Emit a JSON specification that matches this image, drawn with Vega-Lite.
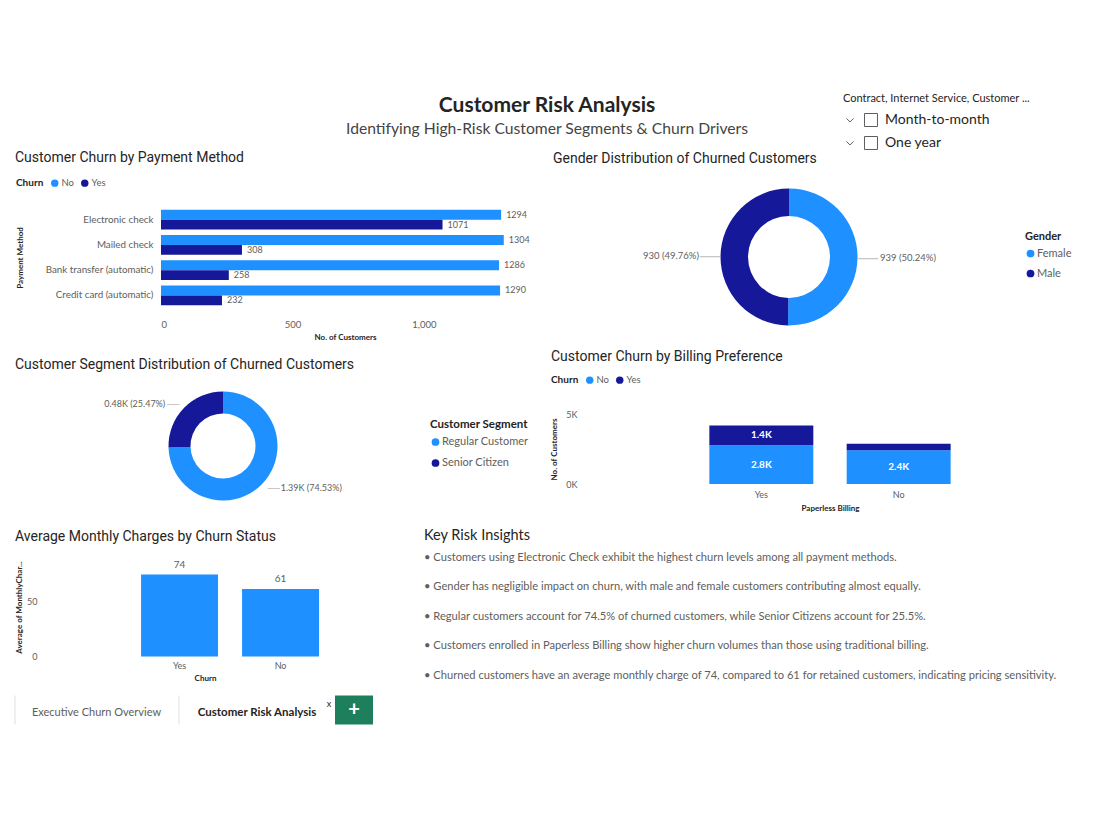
{
  "$schema": "https://vega.github.io/schema/vega-lite/v6.json",
  "background": "white",
  "padding": {"left": 14, "top": 93, "right": 10, "bottom": 10},
  "config": {
    "font": "Lato",
    "view": {"stroke": null},
    "axis": {"grid": false, "domain": false, "ticks": false, "labelColor": "#605E5C", "labelFont": "Lato", "labelFontSize": 9, "titleColor": "#252423", "titleFont": "Lato", "titleFontSize": 8, "titleFontWeight": "bold"},
    "legend": {"labelFont": "Lato", "titleFont": "Lato", "labelColor": "#605E5C", "titleColor": "#252423"},
    "title": {"font": "Roboto", "fontSize": 14, "fontWeight": "normal", "color": "#252423", "anchor": "start", "frame": "group"}
  },
  "resolve": {"scale": {"color": "independent", "shape": "independent"}, "legend": {"color": "independent", "shape": "independent"}},
  "spacing": -1,
  "vconcat": [
    {
      "spacing": 28,
      "resolve": {"scale": {"color": "independent", "shape": "independent"}, "legend": {"color": "independent", "shape": "independent"}},
      "hconcat": [
        {
          "width": 800, "height": 1,
          "data": {"values": [{"item": "header"}]},
          "title": {"text": "Customer Risk Analysis", "subtitle": "Identifying High-Risk Customer Segments & Churn Drivers", "anchor": "middle", "frame": "group", "dx": 132, "font": "Lato", "fontSize": 21, "fontWeight": "bold", "color": "#252423", "subtitleFont": "Lato", "subtitleFontSize": 15.7, "subtitleColor": "#444444", "subtitlePadding": 6, "offset": 0},
          "mark": {"type": "text", "text": ""},
          "encoding": {}
        },
        {
          "width": 238, "height": 1,
          "data": {"values": [{"item": "Month-to-month"}, {"item": "One year"}]},
          "mark": {"type": "point", "opacity": 0, "color": "#605E5C"},
          "encoding": {
            "shape": {"field": "item", "type": "nominal", "sort": null,
              "scale": {"range": ["M2.23,-1H4.23V1H2.23Z M-0.55,-0.25L0,0.3L0.55,-0.25"]},
              "legend": {"orient": "none", "legendX": 0, "legendY": -49, "title": "Contract, Internet Service, Customer ...", "titleFontSize": 11, "titleFontWeight": "normal", "titleColor": "#252423", "titleLimit": 400, "titlePadding": 9, "labelFontSize": 14, "labelColor": "#252423", "labelOffset": 28, "symbolSize": 169, "symbolStrokeColor": "#605E5C", "symbolStrokeWidth": 1, "symbolFillColor": "transparent", "rowPadding": 5,
                "encode": {"symbols": {"update": {"opacity": {"value": 1}, "stroke": {"value": "#605E5C"}, "fill": {"value": "transparent"}}}}}
            }
          }
        }
      ]
    },
    {
      "spacing": 15.5,
      "resolve": {"scale": {"color": "independent", "shape": "independent"}, "legend": {"color": "independent", "shape": "independent"}},
      "vconcat": [
        {
          "spacing": 20,
          "resolve": {"scale": {"color": "independent"}, "legend": {"color": "independent"}},
          "hconcat": [
            {
              "spacing": 16,
              "resolve": {"scale": {"color": "independent"}, "legend": {"color": "independent"}},
              "vconcat": [
                {
                  "width": 514, "height": 101,
                  "title": {"text": "Customer Churn by Payment Method", "offset": 13},
                  "data": {"values": [
                    {"method": "Electronic check", "churn": "No", "count": 1294},
                    {"method": "Electronic check", "churn": "Yes", "count": 1071},
                    {"method": "Mailed check", "churn": "No", "count": 1304},
                    {"method": "Mailed check", "churn": "Yes", "count": 308},
                    {"method": "Bank transfer (automatic)", "churn": "No", "count": 1286},
                    {"method": "Bank transfer (automatic)", "churn": "Yes", "count": 258},
                    {"method": "Credit card (automatic)", "churn": "No", "count": 1290},
                    {"method": "Credit card (automatic)", "churn": "Yes", "count": 232}
                  ]},
                  "encoding": {
                    "y": {"field": "method", "type": "nominal", "sort": null, "scale": {"paddingInner": 0.226, "paddingOuter": 0.113}, "axis": {"title": "Payment Method", "offset": -146, "labelPadding": 8, "titlePadding": 20, "labelLimit": 200, "labelFontSize": 9.8}},
                    "yOffset": {"field": "churn", "type": "nominal", "sort": ["No", "Yes"], "scale": {"paddingInner": 0, "paddingOuter": 0}},
                    "x": {"field": "count", "type": "quantitative", "scale": {"domain": [0, 1400], "nice": false, "range": [146, 514]}, "axis": {"title": "No. of Customers", "values": [0, 500, 1000], "format": ",d", "labelPadding": 11, "titlePadding": 5, "labelFontSize": 9.5}}
                  },
                  "layer": [
                    {"mark": {"type": "bar"}, "encoding": {"color": {"field": "churn", "type": "nominal", "scale": {"domain": ["No", "Yes"], "range": ["#1E90FF", "#16189A"]},
                      "legend": {"orient": "none", "legendX": 1, "legendY": -29, "direction": "horizontal", "title": "Churn", "titleOrient": "left", "titleFontSize": 10, "titleFontWeight": "bold", "titlePadding": 6, "labelFontSize": 9.5, "symbolType": "circle", "symbolSize": 55, "labelOffset": 2, "columnPadding": 6}}}},
                    {"mark": {"type": "text", "align": "left", "dx": 5, "fontSize": 9, "color": "#605E5C"}, "encoding": {"text": {"field": "count", "type": "quantitative", "format": "d"}}}
                  ]
                },
                {
                  "width": 416, "height": 128,
                  "title": {"text": "Customer Segment Distribution of Churned Customers", "offset": 10},
                  "data": {"values": [
                    {"segment": "Regular Customer", "count": 1393, "label": "1.39K (74.53%)"},
                    {"segment": "Senior Citizen", "count": 476, "label": "0.48K (25.47%)"}
                  ]},
                  "encoding": {
                    "theta": {"field": "count", "type": "quantitative", "stack": true},
                    "order": {"field": "segment", "type": "nominal", "sort": "ascending"}
                  },
                  "layer": [
                    {"mark": {"type": "arc", "outerRadius": 54.5, "innerRadius": 32.5}, "encoding": {"color": {"field": "segment", "type": "nominal", "scale": {"domain": ["Regular Customer", "Senior Citizen"], "range": ["#1E90FF", "#16189A"]},
                      "legend": {"orient": "none", "legendX": 415, "legendY": 37, "title": "Customer Segment", "titleFontSize": 11.5, "titleFontWeight": "bold", "titlePadding": 6, "labelFontSize": 11, "symbolType": "circle", "symbolSize": 60, "labelOffset": 1, "rowPadding": 9}}}},
                    {"mark": {"type": "text", "radius": 61, "align": "left", "dx": 14, "fontSize": 9, "color": "#605E5C"}, "encoding": {"detail": {"field": "segment"}, "text": {"condition": {"test": "datum.segment === 'Regular Customer'", "field": "label"}, "value": ""}}},
                    {"mark": {"type": "text", "radius": 61, "align": "right", "dx": -14, "fontSize": 9, "color": "#605E5C"}, "encoding": {"detail": {"field": "segment"}, "text": {"condition": {"test": "datum.segment === 'Senior Citizen'", "field": "label"}, "value": ""}}},
                    {"mark": {"type": "text", "radius": 61, "dx": 7, "font": "Liberation Sans", "fontSize": 12, "color": "#C8C6C4"}, "encoding": {"detail": {"field": "segment"}, "text": {"condition": {"test": "datum.segment === 'Regular Customer'", "value": "—"}, "value": ""}}},
                    {"mark": {"type": "text", "radius": 61, "dx": -6, "font": "Liberation Sans", "fontSize": 12, "color": "#C8C6C4"}, "encoding": {"detail": {"field": "segment"}, "text": {"condition": {"test": "datum.segment === 'Senior Citizen'", "value": "—"}, "value": ""}}}
                  ]
                }
              ]
            },
            {
              "spacing": 24,
              "resolve": {"scale": {"color": "independent"}, "legend": {"color": "independent"}},
              "vconcat": [
                {
                  "width": 418, "height": 100,
                  "title": {"text": "Gender Distribution of Churned Customers", "offset": 23, "dx": -27},
                  "data": {"values": [
                    {"gender": "Female", "count": 939, "label": "939 (50.24%)"},
                    {"gender": "Male", "count": 930, "label": "930 (49.76%)"}
                  ]},
                  "encoding": {
                    "theta": {"field": "count", "type": "quantitative", "stack": true},
                    "order": {"field": "gender", "type": "nominal", "sort": "ascending"}
                  },
                  "layer": [
                    {"mark": {"type": "arc", "outerRadius": 68.5, "innerRadius": 41}, "encoding": {"color": {"field": "gender", "type": "nominal", "scale": {"domain": ["Female", "Male"], "range": ["#1E90FF", "#16189A"]},
                      "legend": {"orient": "none", "legendX": 445, "legendY": 24, "title": "Gender", "titleFontSize": 11, "titleFontWeight": "bold", "titlePadding": 6, "labelFontSize": 11, "symbolType": "circle", "symbolSize": 60, "labelOffset": 1, "rowPadding": 8}}}},
                    {"mark": {"type": "text", "radius": 80, "align": "left", "dx": 11, "fontSize": 9.5, "color": "#605E5C"}, "encoding": {"detail": {"field": "gender"}, "text": {"condition": {"test": "datum.gender === 'Female'", "field": "label"}, "value": ""}}},
                    {"mark": {"type": "text", "radius": 80, "align": "right", "dx": -10, "fontSize": 9.5, "color": "#605E5C"}, "encoding": {"detail": {"field": "gender"}, "text": {"condition": {"test": "datum.gender === 'Male'", "field": "label"}, "value": ""}}},
                    {"mark": {"type": "text", "radius": 79, "font": "Liberation Sans", "fontSize": 20, "color": "#C8C6C4"}, "encoding": {"detail": {"field": "gender"}, "text": {"value": "—"}}}
                  ]
                },
                {
                  "width": 500, "height": 70,
                  "title": {"text": "Customer Churn by Billing Preference", "offset": 11, "dx": -29},
                  "data": {"values": [
                    {"billing": "Yes", "churn": "No", "count": 2771, "label": "2.8K"},
                    {"billing": "Yes", "churn": "Yes", "count": 1400, "label": "1.4K"},
                    {"billing": "No", "churn": "No", "count": 2403, "label": "2.4K"},
                    {"billing": "No", "churn": "Yes", "count": 469, "label": ""}
                  ]},
                  "encoding": {
                    "x": {"field": "billing", "type": "nominal", "sort": ["Yes", "No"], "scale": {"paddingInner": 0.243, "paddingOuter": 0.942}, "axis": {"title": "Paperless Billing", "labelAngle": 0, "labelPadding": 6, "titlePadding": 5}},
                    "y": {"field": "count", "type": "quantitative", "stack": "zero", "scale": {"domain": [0, 5000], "nice": false}, "axis": {"title": "No. of Customers", "values": [0, 5000], "labelExpr": "datum.value / 1000 + 'K'", "labelPadding": 3, "titlePadding": 7}},
                    "order": {"field": "churn", "type": "nominal", "sort": "ascending"}
                  },
                  "layer": [
                    {"mark": {"type": "bar"}, "encoding": {"color": {"field": "churn", "type": "nominal", "scale": {"domain": ["No", "Yes"], "range": ["#1E90FF", "#16189A"]},
                      "legend": {"orient": "none", "legendX": -29, "legendY": -39, "direction": "horizontal", "title": "Churn", "titleOrient": "left", "titleFontSize": 10, "titleFontWeight": "bold", "titlePadding": 6, "labelFontSize": 9.5, "symbolType": "circle", "symbolSize": 55, "labelOffset": 2, "columnPadding": 6}}}},
                    {"mark": {"type": "text", "color": "white", "fontSize": 10, "fontWeight": "bold"}, "encoding": {"y": {"field": "count", "type": "quantitative", "stack": "zero", "bandPosition": 0.5}, "detail": {"field": "churn"}, "text": {"field": "label"}}}
                  ]
                }
              ]
            }
          ]
        },
        {
          "spacing": 12,
          "vconcat": [
            {
              "spacing": 29,
              "hconcat": [
                {
                  "width": 380, "height": 99,
                  "title": {"text": "Average Monthly Charges by Churn Status", "offset": 14},
                  "data": {"values": [{"churn": "Yes", "avg": 74.44}, {"churn": "No", "avg": 61.27}]},
                  "encoding": {
                    "x": {"field": "churn", "type": "nominal", "sort": ["Yes", "No"], "scale": {"paddingInner": 0.238, "paddingOuter": 1, "align": 0.624}, "axis": {"title": "Churn", "labelAngle": 0, "labelPadding": 5, "titlePadding": 4}},
                    "y": {"field": "avg", "type": "quantitative", "scale": {"domain": [0, 90], "nice": false}, "axis": {"title": "Average of MonthlyChar...", "offset": -26, "values": [0, 50], "labelPadding": 4, "titlePadding": 3}}
                  },
                  "layer": [
                    {"mark": {"type": "bar", "color": "#1E90FF"}},
                    {"mark": {"type": "text", "baseline": "bottom", "dy": -5, "fontSize": 10, "color": "#605E5C"}, "encoding": {"text": {"field": "avg", "type": "quantitative", "format": ".0f"}}}
                  ]
                },
                {
                  "width": 662, "height": 118,
                  "title": {"text": "Key Risk Insights", "offset": 8, "font": "Lato", "fontSize": 14.5},
                  "data": {"values": [
                    {"line": "• Customers using Electronic Check exhibit the highest churn levels among all payment methods."},
                    {"line": "• Gender has negligible impact on churn, with male and female customers contributing almost equally."},
                    {"line": "• Regular customers account for 74.5% of churned customers, while Senior Citizens account for 25.5%."},
                    {"line": "• Customers enrolled in Paperless Billing show higher churn volumes than those using traditional billing."},
                    {"line": "• Churned customers have an average monthly charge of 74, compared to 61 for retained customers, indicating pricing sensitivity."}
                  ]},
                  "mark": {"type": "text", "align": "left", "font": "Lato", "fontSize": 11.15, "color": "#605E5C"},
                  "encoding": {
                    "y": {"field": "line", "type": "nominal", "sort": null, "axis": null, "scale": {"type": "point", "padding": 0}},
                    "x": {"value": 0},
                    "text": {"field": "line"}
                  }
                }
              ]
            },
            {
              "spacing": 0,
              "hconcat": [
                {
                  "width": 163, "height": 29,
                  "data": {"values": [{"tab": "Executive Churn Overview"}]},
                  "layer": [
                    {"mark": {"type": "rule", "color": "#E1DFDD"}, "encoding": {"x": {"value": 0}}},
                    {"mark": {"type": "text", "font": "Lato", "fontSize": 11, "color": "#605E5C", "dy": 3}, "encoding": {"text": {"field": "tab"}}}
                  ]
                },
                {
                  "width": 156, "height": 29,
                  "data": {"values": [{"tab": "Customer Risk Analysis"}]},
                  "layer": [
                    {"mark": {"type": "rule", "color": "#E1DFDD"}, "encoding": {"x": {"value": 0}}},
                    {"mark": {"type": "text", "font": "Lato", "fontSize": 11.5, "fontWeight": "bold", "color": "#252423", "dy": 3}, "encoding": {"text": {"field": "tab"}}},
                    {"mark": {"type": "text", "text": "x", "dx": 72, "dy": -6, "font": "Lato", "fontSize": 9, "color": "#252423"}, "encoding": {}}
                  ]
                },
                {
                  "width": 38, "height": 29,
                  "data": {"values": [{"tab": "+"}]},
                  "layer": [
                    {"mark": {"type": "bar", "color": "#1E7F5C"}, "encoding": {}},
                    {"mark": {"type": "text", "font": "Lato", "fontSize": 20, "fontWeight": "bold", "color": "white"}, "encoding": {"text": {"field": "tab"}}}
                  ]
                }
              ]
            }
          ]
        }
      ]
    }
  ]
}
